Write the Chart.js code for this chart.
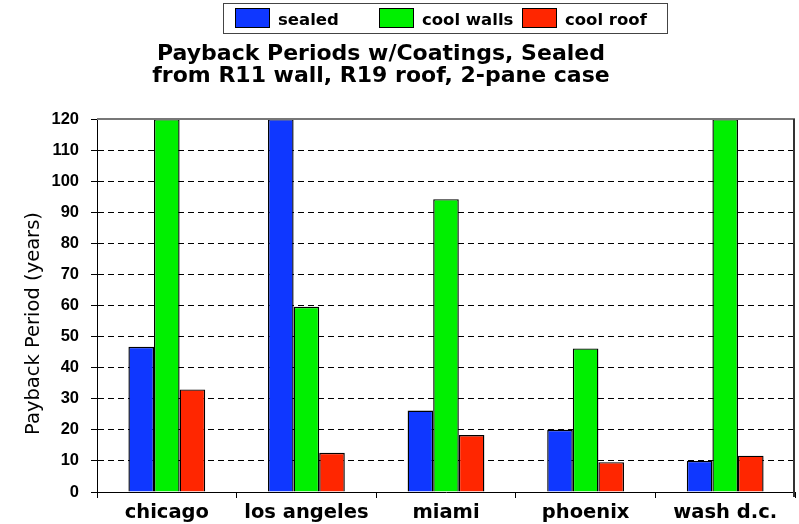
<!DOCTYPE html>
<html>
<head>
<meta charset="utf-8">
<title>Payback Periods w/Coatings</title>
<script src="https://cdn.jsdelivr.net/npm/chart.js@4.4.0/dist/chart.umd.min.js"></script>
<style>
  html, body { margin: 0; padding: 0; background: #fff; }
</style>
</head>
<body>
<canvas id="payback" width="799" height="524"></canvas>
<script>
// values (bars that hit 120 run past the top of the axis)
const cities = ["chicago", "los angeles", "miami", "phoenix", "wash d.c."];
const sealed = [46.7, 120, 26.2, 20, 10];
const coolWalls = [120, 59.6, 94.2, 46.2, 120];
const coolRoof = [33, 12.6, 18.3, 9.6, 11.7];

const seriesNames = ["sealed", "cool walls", "cool roof"];
const seriesColors = ["#0f37ff", "#00f000", "#ff2600"];

const titleLines = ["Payback Periods w/Coatings, Sealed", "from R11 wall, R19 roof, 2-pane case"];
const yTitle = "Payback Period (years)";
const yMin = 0, yMax = 120, yStep = 10;

// legend, title, frame and y title drawn on top of the chart
const decor = {
    id: "decor",
    afterDraw(chart) {
        let ctx = chart.ctx;
        let a = chart.chartArea;
        ctx.save();

        // plot frame: top and right edges
        ctx.lineWidth = 2;
        ctx.strokeStyle = "#777";
        ctx.beginPath();
        ctx.moveTo(a.left, a.top);
        ctx.lineTo(a.right, a.top);
        ctx.stroke();
        ctx.strokeStyle = "#333";
        ctx.beginPath();
        ctx.moveTo(a.right - 1, a.top);
        ctx.lineTo(a.right - 1, a.bottom + 5);
        ctx.stroke();

        // legend box
        let mid = (a.left + a.right) / 2;
        let lx = Math.round(mid - 223);
        ctx.lineWidth = 1;
        ctx.strokeStyle = "#444";
        ctx.strokeRect(lx + 0.5, 3.5, 444, 30);
        ctx.font = "bold 16.5px 'DejaVu Sans'";
        ctx.textBaseline = "alphabetic";
        ctx.textAlign = "left";
        chart.data.datasets.forEach((ds, i) => {
            let x = lx + 12 + Math.round(i * 143.5);
            ctx.fillStyle = ds.backgroundColor;
            ctx.fillRect(x, 8, 35, 20);
            ctx.strokeStyle = "#000";
            ctx.strokeRect(x + 0.5, 8.5, 34, 19);
            ctx.fillStyle = "#000";
            ctx.fillText(ds.label, x + 43, 25);
        });

        // title
        ctx.font = "bold 22px 'DejaVu Sans'";
        ctx.textAlign = "center";
        ctx.fillStyle = "#000";
        ctx.fillText(titleLines[0], 381, 60);
        ctx.fillText(titleLines[1], 381, 82);

        // y axis title
        ctx.translate(39, 323.5);
        ctx.rotate(-Math.PI / 2);
        ctx.font = "19.5px 'DejaVu Sans'";
        ctx.fillText(yTitle, 0, 0);

        ctx.restore();
    }
};

const series = [sealed, coolWalls, coolRoof];

new Chart(document.getElementById("payback"), {
    type: "bar",
    data: {
        labels: cities,
        datasets: series.map((vals, i) => ({
            label: seriesNames[i],
            data: vals,
            backgroundColor: seriesColors[i],
            borderColor: "#000",
            borderWidth: 1.4,
            categoryPercentage: 0.55,
            barPercentage: 1.0
        }))
    },
    options: {
        responsive: false,
        devicePixelRatio: 1,
        animation: false,
        layout: { padding: { top: 119, right: 4, left: 0, bottom: 0 } },
        plugins: {
            legend: { display: false },
            title: { display: false },
            tooltip: { enabled: false }
        },
        scales: {
            x: {
                offset: true,
                grid: {
                    display: true,
                    offset: true,
                    drawOnChartArea: false,
                    tickLength: 6,
                    color: "#000"
                },
                border: { display: true, color: "#000", width: 1 },
                ticks: {
                    color: "#000",
                    padding: 3,
                    maxRotation: 0,
                    autoSkip: false,
                    font: { family: "'DejaVu Sans'", size: 19.5, weight: "bold" }
                },
                afterFit(scale) { scale.height = 32; }
            },
            y: {
                min: yMin,
                max: yMax,
                ticks: {
                    stepSize: yStep,
                    color: "#000",
                    padding: 12,
                    font: { family: "'Liberation Sans'", size: 16.5, weight: "bold" }
                },
                grid: {
                    color: "#000",
                    lineWidth: 1,
                    tickLength: 6,
                    tickColor: "#000",
                    tickBorderDash: []
                },
                border: { display: true, color: "#000", width: 1, dash: [6, 4] },
                afterFit(scale) { scale.width = 97; }
            }
        }
    },
    plugins: [decor]
});
</script>
</body>
</html>
